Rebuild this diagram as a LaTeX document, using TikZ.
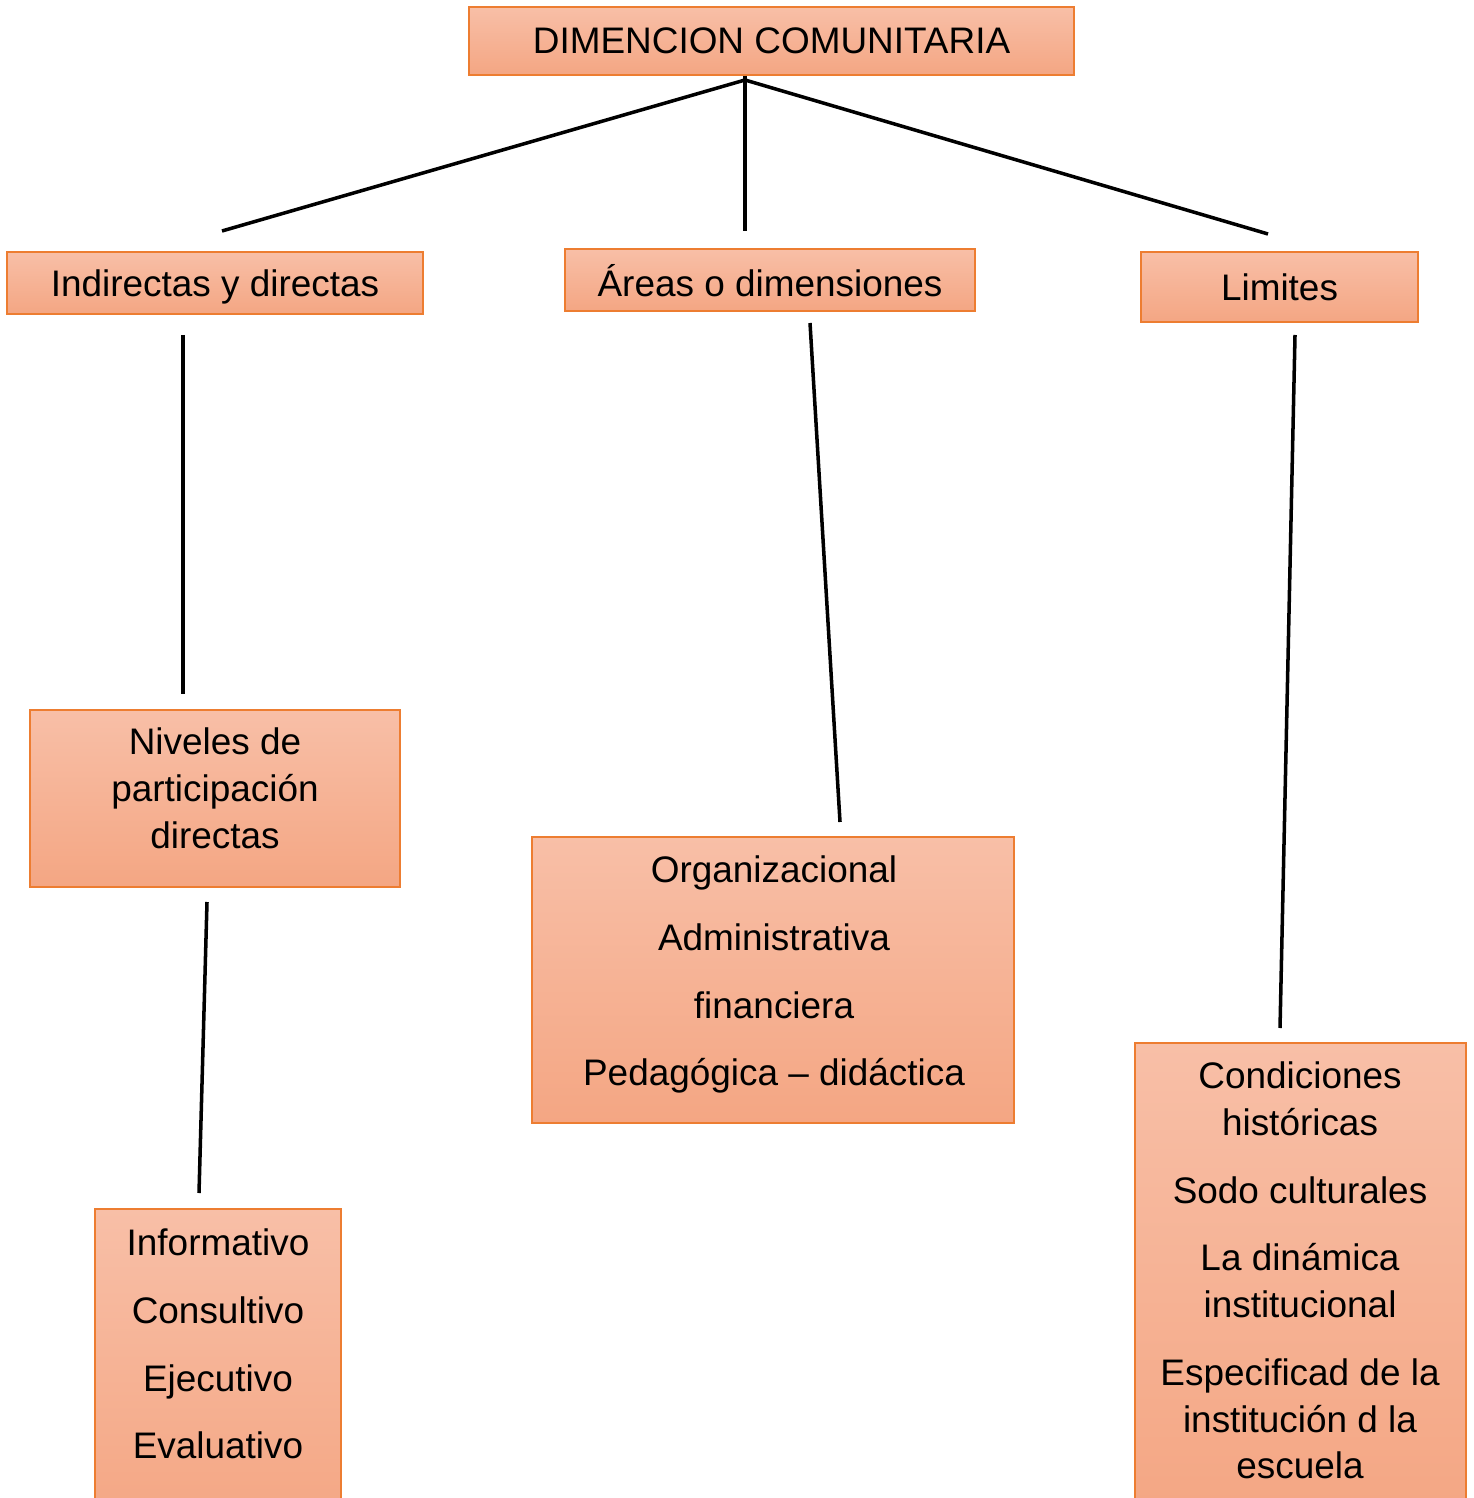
\documentclass[tikz,border=0pt]{standalone}
\usepackage{fontspec}
\setmainfont{Liberation Sans}
\usetikzlibrary{positioning}
\definecolor{boxline}{RGB}{237,125,49}
\definecolor{boxtop}{RGB}{248,191,167}
\definecolor{boxbot}{RGB}{244,166,131}
\tikzstyle{box} = [draw=boxline, line width=0.5pt, top color=boxtop, bottom color=boxbot, inner sep=0pt, text depth=0pt, font={\fontsize{10.5}{13.4}\selectfont}]
\tikzstyle{words} = [align=center, inner sep=0pt, anchor=north, font={\fontsize{10.5}{13.3}\selectfont}]
\tikzstyle{link} = [line width=1pt]

\begin{document}
\begin{tikzpicture}[x=0.01cm,y=-0.01cm]
        \useasboundingbox (0,0) rectangle (1473,1498);
        \node[box,minimum width=6.05cm,minimum height=0.68cm](0) at (771.5,41){DIMENCION COMUNITARIA};
        \node[box,minimum width=4.16cm,minimum height=0.62cm](1) at (215,283){Indirectas y directas};
        \node[box,minimum width=4.10cm,minimum height=0.62cm](2) at (770,280){Áreas o dimensiones};
        \node[box,minimum width=2.77cm,minimum height=0.70cm](3) at (1279.5,287){Limites};
        \node[box,minimum width=3.70cm,minimum height=1.77cm](4) at (215,798.5){};
        \node[words](4t) at (215,727){Niveles de\\participación\\directas};
        \node[box,minimum width=4.82cm,minimum height=2.86cm](5) at (773,980){};
        \node[words](5t) at (774,855){Organizacional\\[0.21cm]Administrativa\\[0.21cm]financiera\\[0.21cm]Pedagógica – didáctica};
        \node[box,minimum width=2.46cm,minimum height=3.2cm](6) at (218,1369){};
        \node[words](6t) at (218,1228){Informativo\\[0.21cm]Consultivo\\[0.21cm]Ejecutivo\\[0.21cm]Evaluativo};
        \node[box,minimum width=3.31cm,minimum height=4.8cm](7) at (1300.5,1283){};
        \node[words](7t) at (1300,1061){Condiciones\\históricas\\[0.21cm]Sodo culturales\\[0.21cm]La dinámica\\institucional\\[0.21cm]Especificad de la\\institución d la\\escuela};
        \coordinate(h) at (745,80);
        \coordinate(1u) at (222,231);
        \coordinate(2u) at (745,231);
        \coordinate(3u) at (1268,234);
        \coordinate(1d) at (183,335);
        \coordinate(4u) at (183,694);
        \coordinate(2d) at (810,323);
        \coordinate(5u) at (840,822);
        \coordinate(3d) at (1295,335);
        \coordinate(7u) at (1280,1028);
        \coordinate(4d) at (207,902);
        \coordinate(6u) at (199,1193);
        \draw[link](h)--(1u);
        \draw[link](0.south -| h)--(2u);
        \draw[link](h)--(3u);
        \draw[link](1d)--(4u);
        \draw[link](2d)--(5u);
        \draw[link](3d)--(7u);
        \draw[link](4d)--(6u);
      \end{tikzpicture}
\end{document}
